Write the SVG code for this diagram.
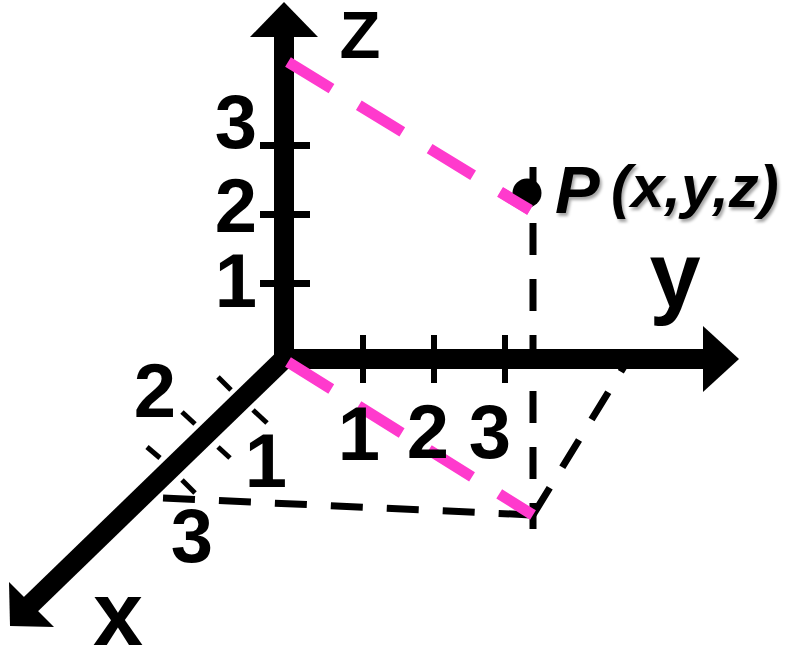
<svg xmlns="http://www.w3.org/2000/svg" width="794" height="645" viewBox="0 0 794 645">
<style>
.axis{fill:#000;stroke:none}
.xaxis{stroke:#000;stroke-width:20;fill:none}
.tick{fill:#000}
.xtick{stroke:#000;stroke-width:5;fill:none}
.bdash{stroke:#000;stroke-width:7;fill:none;stroke-dasharray:32 24}
.pdash{stroke:#FF3ACD;stroke-width:11;fill:none;stroke-dasharray:51 32}
.num{font-family:"Liberation Sans",Arial,sans-serif;font-weight:bold;font-size:76px;fill:#000;text-anchor:middle}
.lbl{font-family:"Liberation Sans",Arial,sans-serif;font-weight:bold;fill:#000;text-anchor:middle}
.pt{font-family:"Liberation Sans",Arial,sans-serif;font-weight:bold;font-style:italic;fill:#000}
</style>
<defs>
<filter id="sh" x="-10%" y="-10%" width="130%" height="140%">
<feDropShadow dx="2" dy="3" stdDeviation="1.5" flood-color="#000" flood-opacity="0.35"/>
</filter>
</defs>
<rect width="794" height="645" fill="#fff"/>
<g id="axes">
<g id="z-axis">
<rect class="axis" x="274" y="36" width="20" height="333"/>
<polygon class="axis" points="284,2 318,37 250,37"/>
<rect class="tick" x="260" y="142" width="50" height="7"/>
<rect class="tick" x="260" y="211" width="50" height="7"/>
<rect class="tick" x="260" y="280" width="50" height="7"/>
</g>
<g id="y-axis">
<rect class="axis" x="274" y="349" width="431" height="20"/>
<polygon class="axis" points="739,359 703,326 703,392"/>
<rect class="tick" x="360" y="335" width="6" height="48"/>
<rect class="tick" x="431" y="335" width="6" height="48"/>
<rect class="tick" x="502" y="335" width="6" height="48"/>
</g>
<g id="x-axis">
<line class="xaxis" x1="287" y1="356" x2="29" y2="606"/>
<polygon class="axis" points="10,626 9,582 54,627"/>
<line class="xtick" x1="218" y1="377" x2="231" y2="390"/>
<line class="xtick" x1="253" y1="410" x2="267" y2="423"/>
<line class="xtick" x1="182" y1="412" x2="195" y2="424"/>
<line class="xtick" x1="218" y1="447" x2="230" y2="458"/>
<line class="xtick" x1="147" y1="447" x2="160" y2="458"/>
<line class="xtick" x1="182" y1="480" x2="195" y2="493"/>
</g>
</g>
<g id="connectors">
<line class="bdash" x1="533" y1="167" x2="533" y2="529"/>
<line class="bdash" x1="163" y1="498" x2="533" y2="515"/>
<line class="bdash" x1="533" y1="515" x2="625" y2="365"/>
<line class="pdash" x1="288" y1="62" x2="530" y2="210"/>
<line class="pdash" x1="288" y1="362" x2="533" y2="515"/>
</g>
<g id="point-P">
<circle cx="527" cy="193" r="14.5" fill="#000"/>
<line x1="500" y1="192" x2="530" y2="210" stroke="#FF3ACD" stroke-width="11"/>
<text class="pt" x="555" y="213" font-size="67" filter="url(#sh)">P</text>
<text class="pt" x="611" y="207" font-size="60" filter="url(#sh)">(x,y,z)</text>
</g>
<g id="labels">
<text class="lbl" x="360" y="58" font-size="67">Z</text>
<text class="lbl" x="675" y="307" font-size="92">y</text>
<text class="lbl" x="118" y="645" font-size="90">x</text>
<text class="num" x="236" y="148">3</text>
<text class="num" x="236" y="232">2</text>
<text class="num" x="236" y="307">1</text>
<text class="num" x="359" y="460">1</text>
<text class="num" x="428" y="458">2</text>
<text class="num" x="490" y="458">3</text>
<text class="num" x="155" y="417">2</text>
<text class="num" x="266" y="487">1</text>
<text class="num" x="192" y="562">3</text>
</g>
</svg>
